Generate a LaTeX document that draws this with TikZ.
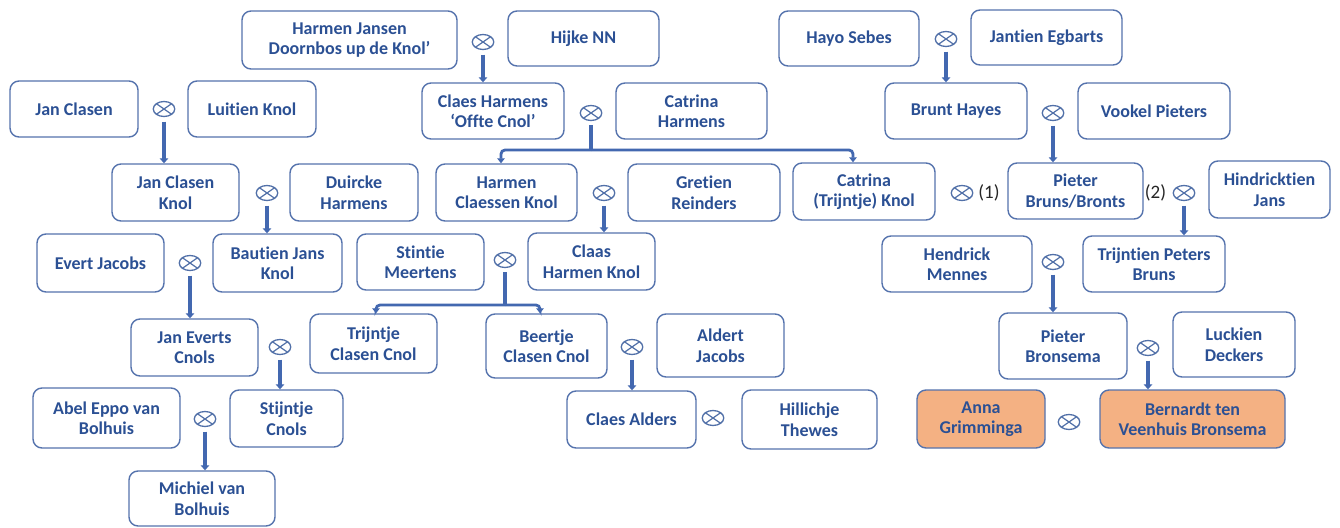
\documentclass[tikz,border=0pt]{standalone}
\usepackage{fontspec}
\setmainfont{Carlito}[Ligatures=NoCommon]
\usetikzlibrary{arrows.meta,shapes.geometric}
\definecolor{txtc}{HTML}{2B5094}
\definecolor{bordc}{HTML}{5573AD}
\definecolor{arrc}{HTML}{4368B0}
\definecolor{symc}{HTML}{5170A8}
\definecolor{orng}{HTML}{F4B183}
\begin{document}
\begin{tikzpicture}[x=1pt,y=-1pt,
  box/.style={draw=bordc, line width=1.4pt, rounded corners=9pt, fill=white, align=center,
    inner sep=0pt, text=txtc, font=\fontsize{18}{20.5}\selectfont\bfseries},
  ob/.style={box, fill=orng},
  wh/.style 2 args={minimum width=#1pt, minimum height=#2pt},
  mar/.style={ellipse, draw=symc, line width=1.3pt, minimum width=21.5pt, minimum height=15pt,
    inner sep=0pt,
    path picture={\draw[symc, line width=1.2pt]
      (path picture bounding box.north west) -- (path picture bounding box.south east)
      (path picture bounding box.south west) -- (path picture bounding box.north east);}},
  arr/.style={draw=arrc, line width=3.4pt, -{Triangle[width=8.5pt,length=5pt]}},
  arrb/.style={draw=arrc, line width=2.8pt, rounded corners=4pt, -{Triangle[width=7.5pt,length=5pt]}},
  lnk/.style={draw=arrc, line width=3.4pt},
  lbl/.style={font=\fontsize{19}{21}\selectfont, text=black!85}]
\useasboundingbox (0,0) rectangle (1340,527);
\fill[white] (0,0) rectangle (1340,527);

% boxes
\node[box, wh={215}{58}] (HJD) at (349.5,40) {Harmen Jansen\\Doornbos up de Knol’};
\node[box, wh={151}{55}] (HNN) at (583.5,38.5) {Hijke NN};
\node[box, wh={140}{55}] (HS) at (849,38.5) {Hayo Sebes};
\node[box, wh={151}{55}] (JE) at (1046.5,37.5) {Jantien Egbarts};
\node[box, wh={128}{56}] (JC) at (74,109) {Jan Clasen};
\node[box, wh={128}{56}] (LK) at (252,109) {Luitien Knol};
\node[box, wh={142}{56}] (CH) at (493,111) {Claes Harmens\\‘Offte Cnol’};
\node[box, wh={151}{56}] (CaH) at (691.5,111) {Catrina\\Harmens};
\node[box, wh={142}{56}] (BH) at (956,111) {Brunt Hayes};
\node[box, wh={152}{56}] (VP) at (1154,111) {Vookel Pieters};
\node[box, wh={127}{57}] (JCK) at (175.5,192.5) {Jan Clasen\\Knol};
\node[box, wh={128}{57}] (DH) at (354,192.5) {Duircke\\Harmens};
\node[box, wh={141}{57}] (HCK) at (506.5,192.5) {Harmen\\Claessen Knol};
\node[box, wh={152}{57}] (GR) at (704,192.5) {Gretien\\Reinders};
\node[box, wh={142}{57}] (CTK) at (864,191.5) {Catrina\\(Trijntje) Knol};
\node[box, wh={135}{56}] (PBB) at (1075.5,191) {Pieter\\Bruns/Bronts};
\node[box, wh={121}{57}] (HJ) at (1269.5,189.5) {Hindricktien\\Jans};
\node[box, wh={127}{58}] (EJ) at (100.5,263) {Evert Jacobs};
\node[box, wh={129}{58}] (BJK) at (277.5,263) {Bautien Jans\\Knol};
\node[box, wh={127}{56}] (SM) at (420.5,262) {Stintie\\Meertens};
\node[box, wh={127}{57}] (CHK) at (591.5,261.5) {Claas\\Harmen Knol};
\node[box, wh={150}{56}] (HM) at (957,264) {Hendrick\\Mennes};
\node[box, wh={142}{56}] (TPB) at (1154,264) {Trijntien Peters\\Bruns};
\node[box, wh={127}{57}] (JEC) at (194.5,347.5) {Jan Everts\\Cnols};
\node[box, wh={127}{59}] (TCC) at (373.5,343.5) {Trijntje\\Clasen Cnol};
\node[box, wh={121}{64}] (BCC) at (546.5,346) {Beertje\\Clasen Cnol};
\node[box, wh={127}{63}] (AJ) at (720.5,345.5) {Aldert\\Jacobs};
\node[box, wh={128}{66}] (PB) at (1063,346) {Pieter\\Bronsema};
\node[box, wh={122}{65}] (LD) at (1234,344.5) {Luckien\\Deckers};
\node[box, wh={147}{60}] (AEB) at (106.5,418) {Abel Eppo van\\Bolhuis};
\node[box, wh={113}{57}] (SC) at (286.5,418.5) {Stijntje\\Cnols};
\node[box, wh={129}{57}] (CA) at (631.5,419.5) {Claes Alders};
\node[box, wh={135}{59}] (HT) at (809.5,419.5) {Hillichje\\Thewes};
\node[ob, wh={128}{58}] (AG) at (981,419) {Anna\\Grimminga};
\node[ob, wh={185}{58}] (BVB) at (1192.5,419) {Bernardt ten\\Veenhuis Bronsema};
\node[box, wh={146}{55}] (MvB) at (202,498.5) {Michiel van\\Bolhuis};

% marriage symbols
\node[mar] (m1) at (483,42) {};
\node[mar] (m2) at (164,109) {};
\node[mar] (m3) at (946,39) {};
\node[mar] (m4) at (591,113) {};
\node[mar] (m5) at (267,193) {};
\node[mar] (m6) at (604,193) {};
\node[mar] (m7) at (1053,113) {};
\node[mar] (m8) at (962,193) {};
\node[mar] (m9) at (1184,193) {};
\node[mar] (m10) at (190,263) {};
\node[mar] (m11) at (505,260) {};
\node[mar] (m12) at (1053,262) {};
\node[mar] (m13) at (280,347) {};
\node[mar] (m14) at (632,347) {};
\node[mar] (m15) at (205,419) {};
\node[mar] (m16) at (713,418) {};
\node[mar] (m17) at (1148,348) {};
\node[mar] (m18) at (1069,422) {};

\node[lbl] (l1) at (989,193) {(1)};
\node[lbl] (l2) at (1155.5,193) {(2)};

% descent arrows
\draw[arr] ([yshift=-4.5pt]m1.south) -- (m1 |- CH.north);
\draw[arr] ([yshift=-4.5pt]m2.south) -- (m2 |- JCK.north);
\draw[arr] ([yshift=-4.5pt]m3.south) -- (m3 |- BH.north);
\draw[arr] ([yshift=-4.5pt]m5.south) -- (m5 |- BJK.north);
\draw[arr] ([yshift=-4.5pt]m6.south) -- (m6 |- CHK.north);
\draw[arr] ([yshift=-4.5pt]m7.south) -- (m7 |- PBB.north);
\draw[arr] ([yshift=-4.5pt]m9.south) -- (m9 |- TPB.north);
\draw[arr] ([yshift=-4.5pt]m10.south) -- (m10 |- JEC.north);
\draw[arr] ([yshift=-4.5pt]m12.south) -- (m12 |- PB.north);
\draw[arr] ([yshift=-4.5pt]m13.south) -- (m13 |- SC.north);
\draw[arr] ([yshift=-4.5pt]m14.south) -- (m14 |- CA.north);
\draw[arr] ([yshift=-4.5pt]m15.south) -- (m15 |- MvB.north);
\draw[arr] ([yshift=-4.5pt]m17.south) -- (m17 |- BVB.north);

% branching
\coordinate (j4) at (591,150);
\draw[lnk] ([yshift=-4pt]m4.south) -- (j4);
\draw[arrb] (j4) -| ([xshift=-5.5pt]HCK.north);
\draw[arrb] (j4) -| ([xshift=-11pt]CTK.north);
\coordinate (j11) at (505,305);
\draw[lnk] ([yshift=-4pt]m11.south) -- (j11);
\draw[arrb] (j11) -| ([xshift=2.5pt]TCC.north);
\draw[arrb] (j11) -| ([xshift=-6.5pt]BCC.north);
\end{tikzpicture}
\end{document}
